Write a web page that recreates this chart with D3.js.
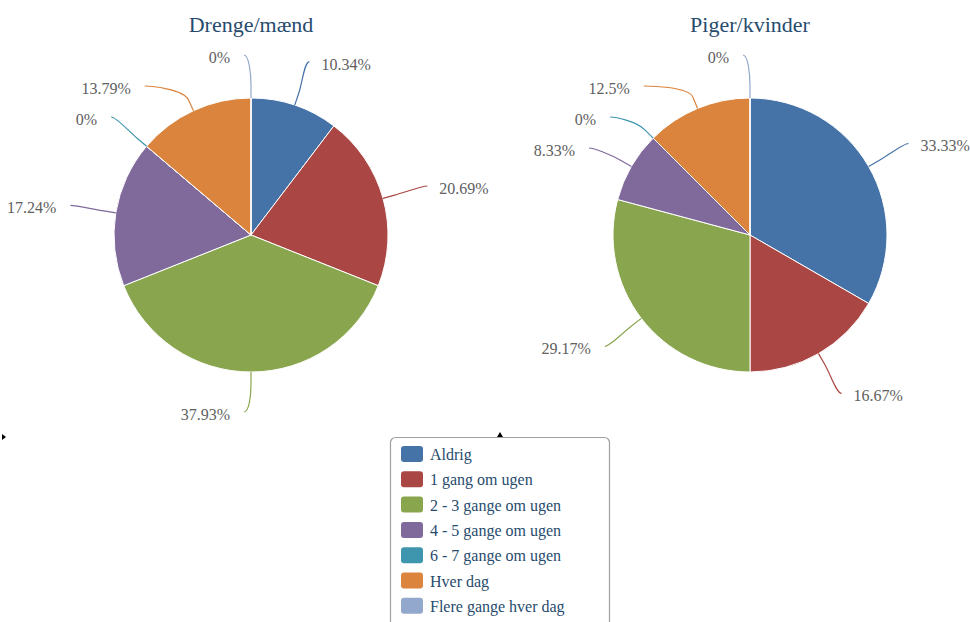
<!DOCTYPE html>
<html><head><meta charset="utf-8">
<script src="https://cdn.jsdelivr.net/npm/d3@7"></script>
<style>
body{margin:0;background:#fff;}
svg{display:block;}
svg text{font-family:"Times New Roman","Liberation Serif",serif;}
</style>
</head><body>
<svg id="c" width="970" height="622"></svg>
<script>
const categories = ["Aldrig","1 gang om ugen","2 - 3 gange om ugen","4 - 5 gange om ugen","6 - 7 gange om ugen","Hver dag","Flere gange hver dag"];
const colors = ["#4572A7","#AA4643","#89A54E","#80699B","#3D96AE","#DB843D","#92A8CD"];
const titles = ["Drenge/mænd","Piger/kvinder"];
const boysValues = [10.34,20.69,37.93,17.24,0,13.79,0];
const girlsValues = [33.33,16.67,29.17,8.33,0,12.5,0];

const svg = d3.select("#c");
const r = 137, cy = 235, labelDist = 46, R = r + labelDist, spacing = 31;
const centers = [251, 750];

function pt(cx, rad, a){ return [cx + rad*Math.sin(a), cy - rad*Math.cos(a)]; }

function distribute(items, minY, maxY){
  items.sort((a,b)=>a.target-b.target);
  let groups = items.map(it=>({items:[it]}));
  const place = g=>{
    const n=g.items.length;
    let s = d3.mean(g.items, d=>d.target) - (n-1)*spacing/2;
    g.start = Math.max(minY, Math.min(maxY-(n-1)*spacing, s));
  };
  let changed = true;
  while(changed){
    changed=false;
    groups.forEach(place);
    for(let i=0;i<groups.length-1;i++){
      const a=groups[i], b=groups[i+1];
      if(a.start + a.items.length*spacing > b.start + 0.01){
        a.items = a.items.concat(b.items); groups.splice(i+1,1); changed=true; break;
      }
    }
  }
  groups.forEach(g=>g.items.forEach((it,k)=>it.y = g.start + k*spacing));
}

function drawPie(values, cx, title){
  const data = values.map((v,i)=>({v, cat:categories[i], color:colors[i]}));
  const arcs = d3.pie().sort(null).value(d=>d.v)(data);
  const g = svg.append("g");
  svg.append("text").attr("x",cx).attr("y",32).attr("text-anchor","middle")
    .attr("font-size","22px").attr("fill","#274b6d").text(title);
  const arcGen = d3.arc().innerRadius(0).outerRadius(r);
  g.selectAll("path.slice").data(arcs).join("path").attr("class","slice")
    .attr("transform",`translate(${cx},${cy})`)
    .attr("d",arcGen).attr("fill",d=>d.data.color)
    .attr("stroke","#fff").attr("stroke-width",1).attr("stroke-linejoin","round");
  const labs = arcs.map(a=>{
    const mid=(a.startAngle+a.endAngle)/2;
    const left = mid >= Math.PI - 1e-6;
    return {a, mid, left, target: cy - R*Math.cos(mid)};
  });
  ["L","R"].forEach(side=>{
    const items = labs.filter(l=> (side==="L")===l.left);
    distribute(items, cy-180, cy+177);
  });
  labs.forEach(l=>{
    const dy = l.y - cy;
    let dx = Math.abs(dy) > R-8 ? 7 : Math.sqrt(R*R - dy*dy);
    const s = l.left ? -1 : 1;
    const ex = cx + s*dx, ey = l.y;
    const off = 12;
    const touch = pt(cx, r, l.mid), brk = pt(cx, r+off, l.mid), p2 = pt(cx, r+2*off, l.mid);
    const p = d3.path();
    p.moveTo(ex, ey);
    p.bezierCurveTo(ex - s*5, ey, p2[0], p2[1], brk[0], brk[1]);
    p.lineTo(touch[0], touch[1]);
    svg.append("path").attr("d",p.toString()).attr("fill","none")
      .attr("stroke",l.a.data.color).attr("stroke-width",1.2);
    svg.append("text").attr("x", ex + s*(l.left ? 14 : 12)).attr("y", ey+8)
      .attr("text-anchor", l.left ? "end":"start")
      .attr("font-size","16px").attr("fill","#606060")
      .text(String(l.a.data.v) + "%");
  });
}
drawPie(boysValues, centers[0], titles[0]);
drawPie(girlsValues, centers[1], titles[1]);

const lg = svg.append("g").attr("transform","translate(390.5,437.5)");
lg.append("rect").attr("width",219).attr("height",200).attr("rx",5)
  .attr("fill","#fff").attr("stroke","#a0a0a0").attr("stroke-width",1.2);
const rowH = 25.3;
const items = lg.selectAll("g.it").data(categories).join("g").attr("class","it")
  .attr("transform",(d,i)=>`translate(0,${17 + i*rowH})`);
items.append("rect").attr("x",10.5).attr("y",-8.5).attr("width",22).attr("height",16).attr("rx",3)
  .attr("fill",(d,i)=>colors[i]);
items.append("text").attr("x",39.5).attr("y",5.5).attr("font-size","16px")
  .attr("fill","#274b6d").text(d=>d);

svg.append("path").attr("d","M2,434 L6,437 L2,440 Z").attr("fill","#000");
svg.append("path").attr("d","M497,437 L500,432 L503,437 Z").attr("fill","#000");
</script>
</body></html>
